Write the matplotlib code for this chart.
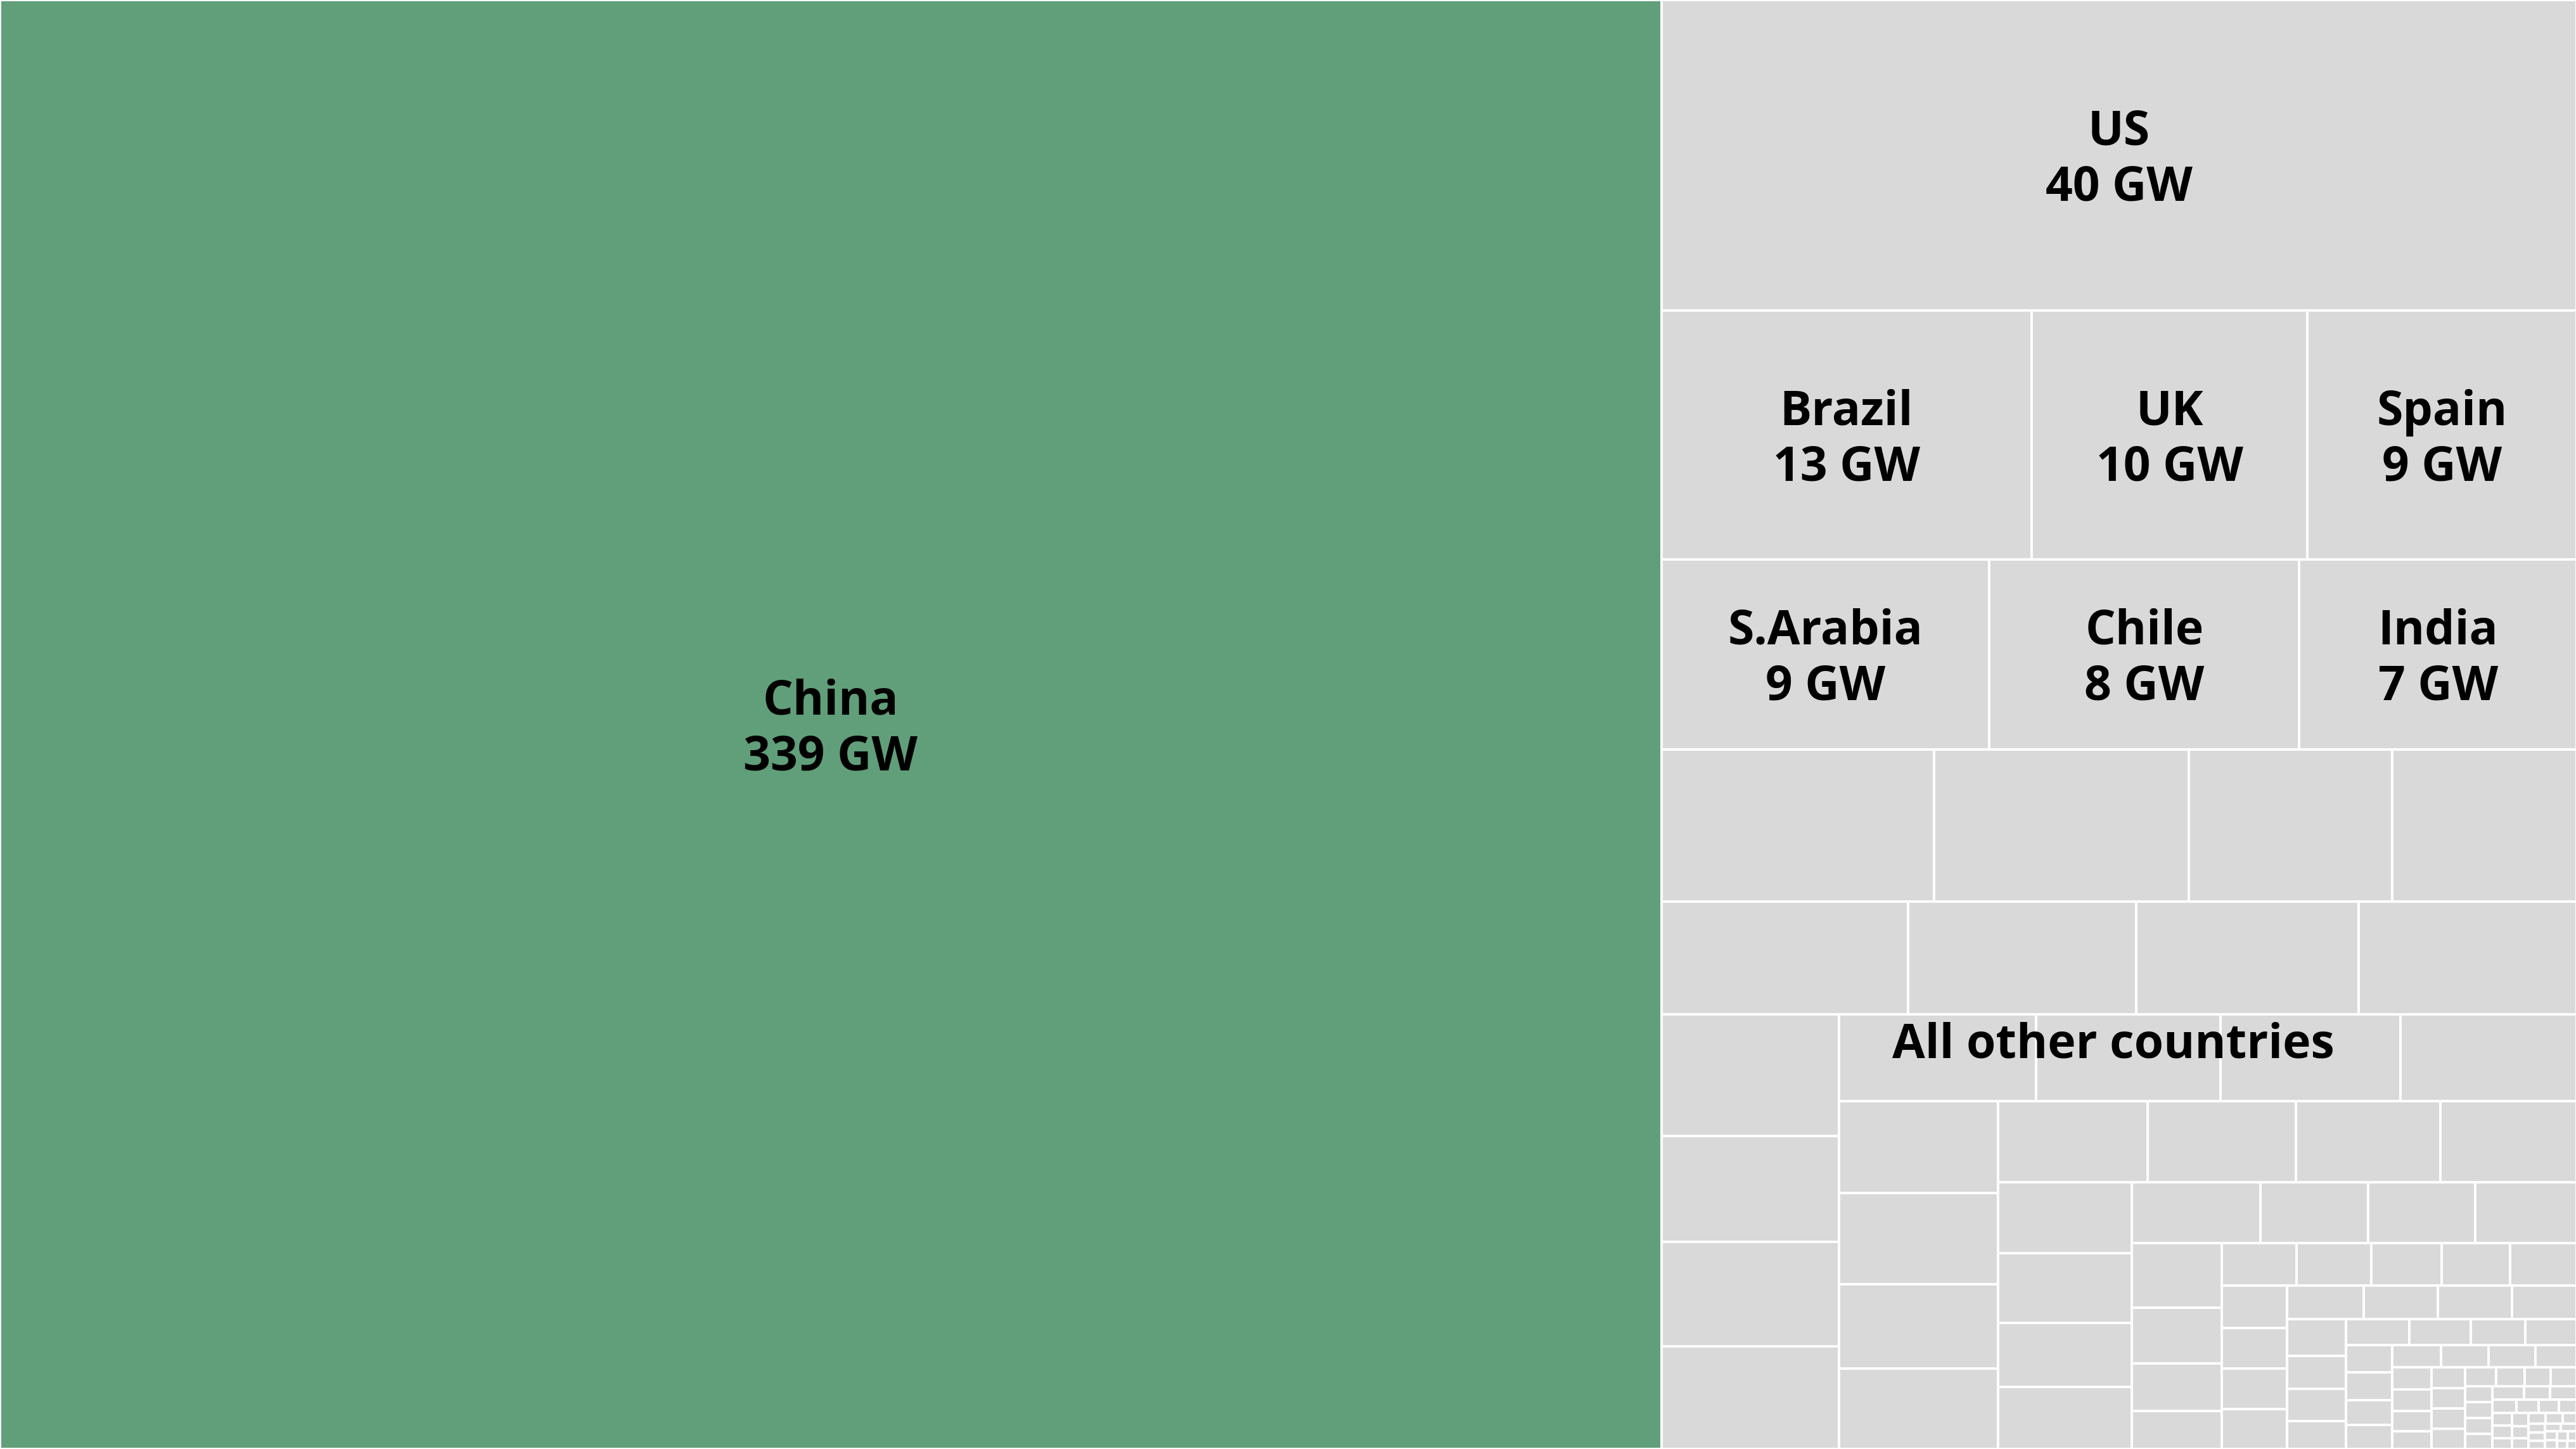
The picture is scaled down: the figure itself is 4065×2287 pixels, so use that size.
import matplotlib.pyplot as plt
from matplotlib.patches import Rectangle

# capacity added per country in GW (labelled boxes)
countries = ['China', 'US', 'Brazil', 'UK', 'Spain', 'S.Arabia', 'Chile', 'India']
capacity = [339, 40, 13, 9.7, 9.45, 8.76, 8.27, 7.4]

# every other country, no labels, biggest first
other_capacity = [
    5.85, 5.47, 4.37, 3.95,
    3.92, 3.62, 3.53, 3.46,
    3.06, 2.65, 2.62, 2.57,
    2.40, 2.25, 2.19, 2.15,
    2.06, 2.04, 1.89, 1.80,
    1.72, 1.70, 1.66, 1.57,
    1.33, 1.32, 1.20, 1.17,
    1.09, 0.92, 0.91, 0.86,
    0.82, 0.70, 0.60, 0.48,
    0.45, 0.45, 0.42, 0.41, 0.40,
    0.39, 0.375, 0.372, 0.37,
    0.363, 0.351, 0.35, 0.306,
    0.305, 0.278, 0.269, 0.232,
    0.231, 0.228, 0.199, 0.189, 0.178,
    0.177, 0.16, 0.158, 0.155,
    0.149, 0.148, 0.130, 0.121,
    0.118, 0.111, 0.099, 0.098,
    0.097, 0.096, 0.095, 0.082,
    0.075, 0.07, 0.068, 0.062, 0.061,
    0.06, 0.06, 0.059,
    0.05, 0.05, 0.045,
    0.042, 0.038, 0.034, 0.034,
    0.034, 0.030, 0.030, 0.029, 0.025, 0.025, 0.025, 0.020, 0.020,
    0.019, 0.019, 0.018, 0.018, 0.015, 0.015, 0.015, 0.0115, 0.0115, 0.0107,
]
other_label = 'All other countries'

GREEN = '#609f7a'
GREY = '#d9d9d9'


# --- squarified treemap (same idea as the squarify package) ---------------
def layout_row(sizes, x, y, dx, dy):
    # strip on the left, boxes stacked downwards
    width = sum(sizes) / dy
    rects = []
    for s in sizes:
        rects.append((x, y, width, s / width))
        y += s / width
    return rects


def layout_col(sizes, x, y, dx, dy):
    # strip on top, boxes side by side
    height = sum(sizes) / dx
    rects = []
    for s in sizes:
        rects.append((x, y, s / height, height))
        x += s / height
    return rects


def layout(sizes, x, y, dx, dy):
    if dx >= dy:
        return layout_row(sizes, x, y, dx, dy)
    return layout_col(sizes, x, y, dx, dy)


def leftover(sizes, x, y, dx, dy):
    if dx >= dy:
        width = sum(sizes) / dy
        return x + width, y, dx - width, dy
    height = sum(sizes) / dx
    return x, y + height, dx, dy - height


def worst_ratio(sizes, x, y, dx, dy):
    return max(max(r[2] / r[3], r[3] / r[2]) for r in layout(sizes, x, y, dx, dy))


def squarify(sizes, x, y, dx, dy):
    rects = []
    while len(sizes) > 0:
        if len(sizes) == 1:
            rects += layout(sizes, x, y, dx, dy)
            break
        i = 1
        while i < len(sizes) and worst_ratio(sizes[:i], x, y, dx, dy) >= worst_ratio(sizes[:i + 1], x, y, dx, dy):
            i += 1
        rects += layout(sizes[:i], x, y, dx, dy)
        x, y, dx, dy = leftover(sizes[:i], x, y, dx, dy)
        sizes = sizes[i:]
    return rects


values = capacity + other_capacity
total = sum(values)
norm = [v * 100 * 100 / total for v in values]
rects = squarify(norm, 0, 0, 100, 100)

fig = plt.figure(figsize=(40.66, 22.87), dpi=100)
ax = fig.add_axes([0, 0, 1, 1])
ax.set_xlim(0, 100)
ax.set_ylim(100, 0)  # first strip at the top
ax.axis('off')

for i, (x, y, w, h) in enumerate(rects):
    color = GREEN if i == 0 else GREY
    ax.add_patch(Rectangle((x, y), w, h, facecolor=color, edgecolor='white', linewidth=2.8))

font = dict(family='Open Sans', weight='bold', fontsize=54, color='black', ha='center', va='baseline')
for i, name in enumerate(countries):
    x, y, w, h = rects[i]
    cx, cy = x + w / 2, y + h / 2
    ax.annotate(name, (cx, cy), xytext=(0, 16), textcoords='offset pixels', **font)
    ax.annotate(f'{capacity[i]:.0f} GW', (cx, cy), xytext=(0, -72), textcoords='offset pixels', **font)

fig.text(3335 / 4066, 1 - 1669 / 2287, other_label, **font)

fig.savefig('out.png', dpi=100)
